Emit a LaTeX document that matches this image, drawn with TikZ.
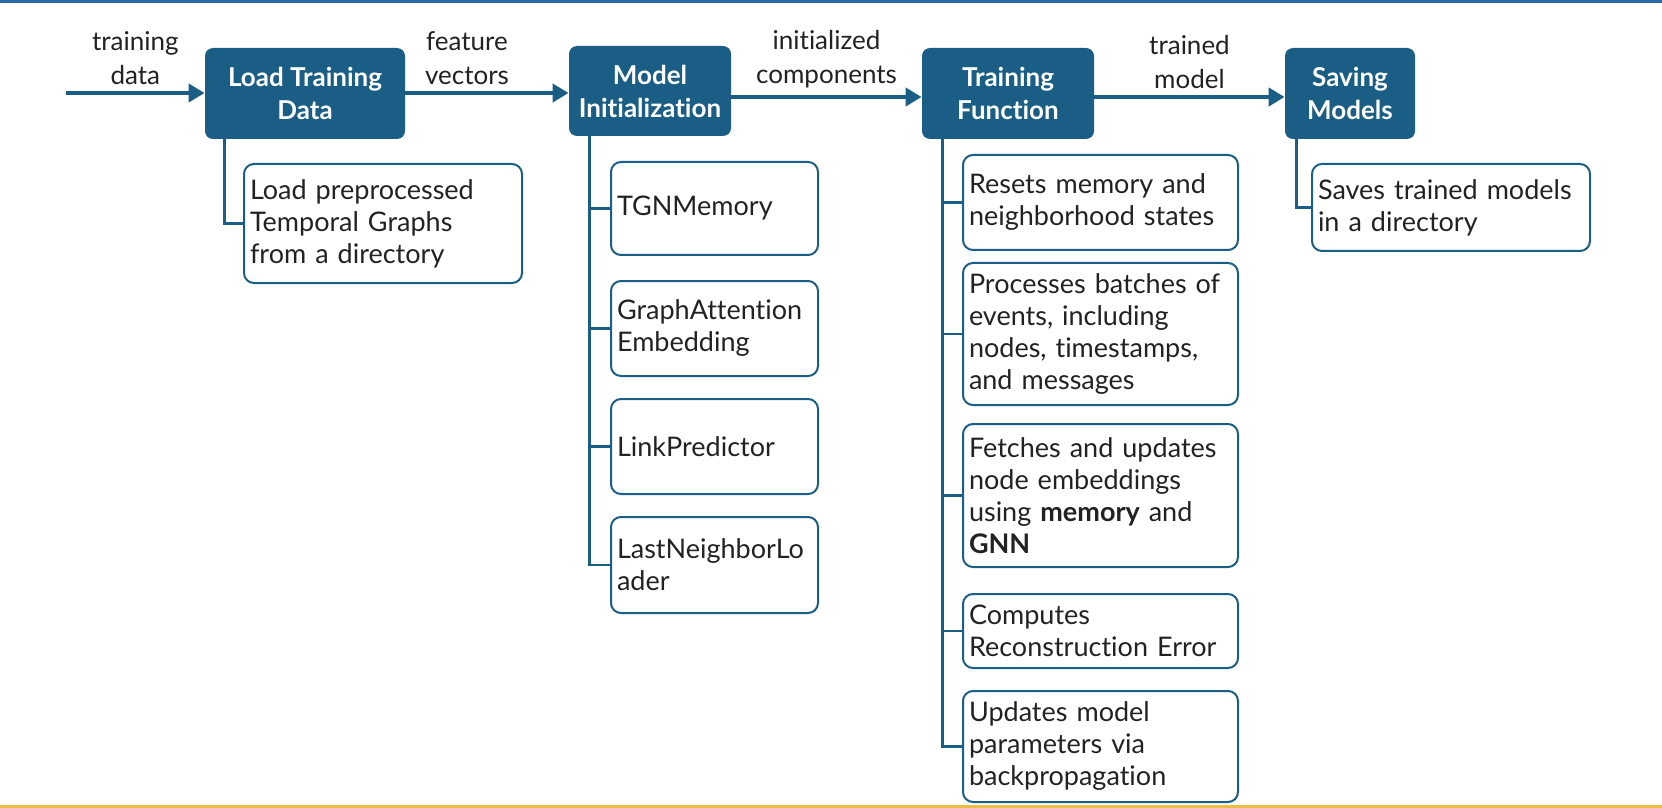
\documentclass[tikz,border=0pt]{standalone}
\usepackage{fontspec}
\setmainfont{Lato}[Ligatures=NoCommon]
\usetikzlibrary{arrows.meta,positioning,calc}
\definecolor{boxblue}{HTML}{1B5E85}
\definecolor{topline}{HTML}{2A66A3}
\definecolor{botline}{HTML}{EDBE45}
\definecolor{labeltext}{HTML}{222222}

\tikzset{
  stage/.style={fill=boxblue, rounded corners=4pt, text=white, align=center,
    font=\bfseries\fontsize{13}{16.5}\selectfont, inner sep=2pt},
  detail/.style={draw=boxblue, line width=1pt, rounded corners=5pt, align=left,
    font=\fontsize{13.5}{16}\selectfont, text=labeltext, inner xsep=3pt, inner ysep=1pt},
  flow/.style={draw=boxblue, line width=2pt, -{Triangle[length=8pt,width=9pt]}},
  link/.style={draw=boxblue, line width=1.2pt},
  lbl/.style={align=center, font=\fontsize{13}{17}\selectfont, text=labeltext}
}

\begin{document}
\begin{tikzpicture}[x=0.5pt,y=-0.5pt]
\useasboundingbox (0,0) rectangle (1662,808);
\fill[topline] (0,0) rectangle (1662,3);
\fill[botline] (0,805) rectangle (1662,808);

% main stages
\node[stage, minimum width=100pt, minimum height=45.5pt] (load) at (305,93.5) {Load Training\\Data};
\node[stage, minimum width=81pt, minimum height=45pt] (init) at (650,91) {Model\\Initialization};
\node[stage, minimum width=86pt, minimum height=45.5pt] (train) at (1008,93.5) {Training\\Function};
\node[stage, minimum width=65pt, minimum height=45.5pt] (save) at (1350,93.5) {Saving\\Models};

% flow between stages
\coordinate (in) at (66,93);
\draw[flow] (in) -- (in -| load.west) node[lbl, above, midway]{training\\data};
\draw[flow] (in -| load.east) -- (in -| init.west) node[lbl, above, midway, xshift=-10pt]{feature\\vectors};
\draw[flow] ([yshift=-3pt]init.east) -- ([yshift=-3pt]init.east -| train.west) node[lbl, above, midway]{initialized\\components};
\draw[flow] ([yshift=-3pt]init.east -| train.east) -- ([yshift=-3pt]init.east -| save.west) node[lbl, above, midway]{trained\\model};

% details of each stage
\node[detail, text width=133pt, minimum height=59.5pt] (ld) at (383,223.5) {Load preprocessed\\Temporal Graphs\\from a directory};

\node[detail, text width=97.5pt, minimum height=46.5pt] (m1) at (714.5,208.5) {TGNMemory};
\node[detail, text width=97.5pt, minimum height=47.5pt] (m2) at (714.5,328.5) {GraphAttention\\Embedding};
\node[detail, text width=97.5pt, minimum height=47.5pt] (m3) at (714.5,446.5) {LinkPredictor};
\node[detail, text width=97.5pt, minimum height=48pt] (m4) at (714.5,565) {LastNeighborLo\\ader};

\node[detail, text width=131.5pt, minimum height=47.5pt] (t1) at (1100.5,202.5) {Resets memory and\\neighborhood states};
\node[detail, text width=131.5pt, minimum height=71pt] (t2) at (1100.5,334) {Processes batches of\\events, including\\nodes, timestamps,\\and messages};
\node[detail, text width=131.5pt, minimum height=71.5pt] (t3) at (1100.5,495.5) {Fetches and updates\\node embeddings\\using \textbf{memory} and\\\textbf{GNN}};
\node[detail, text width=131.5pt, minimum height=37pt] (t4) at (1100.5,631) {Computes\\Reconstruction Error};
\node[detail, text width=131.5pt, minimum height=55.5pt] (t5) at (1100.5,746.5) {Updates model\\parameters via\\backpropagation};

\node[detail, text width=133pt, minimum height=43.5pt] (sv) at (1451,207.5) {Saves trained models\\in a directory};

% tree links
\draw[link] ([xshift=10pt]load.south west) |- (ld.west);
\foreach \k in {m1,m2,m3,m4}
  \draw[link] ([xshift=10.5pt]init.south west) |- (\k.west);
\foreach \k in {t1,t2,t3,t4,t5}
  \draw[link] ([xshift=10.5pt]train.south west) |- (\k.west);
\draw[link] ([xshift=6pt]save.south west) |- (sv.west);
\end{tikzpicture}
\end{document}
